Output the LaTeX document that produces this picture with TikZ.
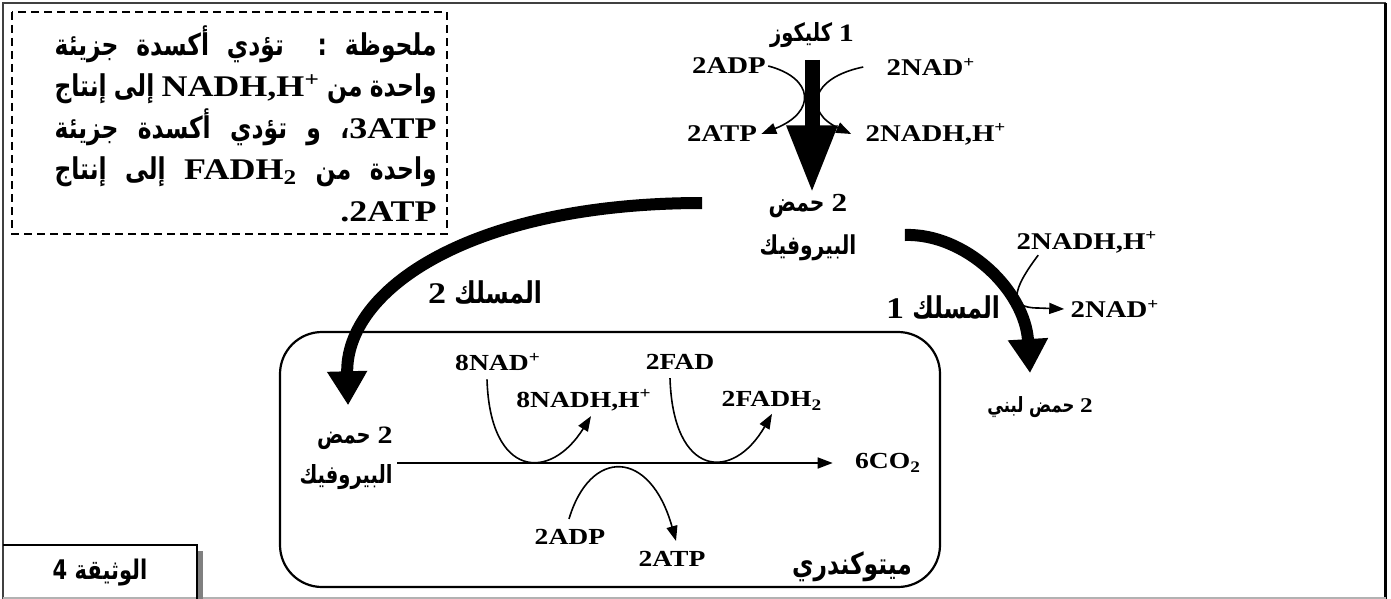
\documentclass[tikz,border=0pt]{standalone}
\usepackage{fontspec}
\setmainfont{Liberation Serif}[FakeStretch=1.2]
\newfontfamily\arabicfont[Script=Arabic,FakeStretch=0.78]{DejaVu Sans}
\usetikzlibrary{arrows.meta,calc,positioning}
\TeXXeTstate=1

\newcommand\ar[1]{{\arabicfont\beginR #1\endR}}
\newcommand\lat[1]{\beginL{\rmfamily #1}\endL}
\newlength\notew
\setlength\notew{191pt}
\newcommand\noteline[1]{\hbox to \notew{\arabicfont\spaceskip=.15em plus 1fil\beginR #1\endR}}

\begin{document}
\begin{tikzpicture}[x=0.5pt, y=-0.5pt, inner sep=0pt,
    lbl/.style={font=\fontsize{12}{14}\selectfont\bfseries},
    mlbl/.style={font=\fontsize{11.5}{20}\selectfont\bfseries},
    way/.style={font=\fontsize{15}{17}\selectfont\bfseries},
    react/.style={line width=0.8pt, -{Triangle[length=7.5pt,width=5.5pt]}},
    glucarrow/.style={line width=7.5pt, -{Triangle[length=34pt,width=23.5pt]}},
    wayarrow/.style={line width=6pt, -{Triangle[length=17pt,width=19pt]}}]

    \useasboundingbox (0,0) rectangle (1391,599);
    % frame
    \draw[black!75, line width=1pt] (3,599) -- (3,3) -- (1386,3);
    \draw[line width=1.5pt] (1385.5,3) -- (1385.5,599);
    \draw[black!30, line width=0.6pt] (3,598) -- (1386,598);

    % note
    \draw[line width=0.75pt, dash pattern=on 4pt off 2.5pt] (12,12) rectangle (447,234);
    \node[font=\fontsize{15}{20.75}\selectfont\bfseries, anchor=north east, align=right] (note) at (437,25) {
        \noteline{ملحوظة : تؤدي أكسدة جزيئة}\\
        \noteline{واحدة من \lat{NADH,H\textsuperscript{+}} إلى إنتاج}\\
        \noteline{\lat{3ATP}، و تؤدي أكسدة جزيئة}\\
        \noteline{واحدة من \lat{FADH\textsubscript{2}} إلى إنتاج}\\
        \hbox to \notew{\hfill\beginR\lat{2ATP}.\endR}};

    % document label
    \node[font=\fontsize{13.5}{15}\selectfont\bfseries] (doc) at (100,573) {\ar{الوثيقة 4}};
    \fill[black!50] (198,551) rectangle (203,599);
    \draw[line width=1pt] (3,545) -- (197,545) -- (197,599);

    % glycolysis
    \node[font=\fontsize{12.5}{14}\selectfont\bfseries] (glucose) at (812,35) {\ar{\lat{1} كليكوز}};
    \node[lbl] (adp) at (729,66) {2ADP};
    \node[lbl] (nad) at (931,67) {2NAD\textsuperscript{+}};
    \node[lbl] (atp) at (722,134) {2ATP};
    \node[lbl] (nadh) at (936,134) {2NADH,H\textsuperscript{+}};
    \node[font=\fontsize{13}{21.5}\selectfont\bfseries, align=center] (pyr) at (808,228) {\ar{\lat{2} حمض}\\ \ar{البيروفيك}};

    \draw[glucarrow] ([yshift=-6pt]glucose.south) -- ([yshift=0.5pt]glucose.south |- pyr.north);
    \draw[react] ([xshift=1pt]adp.east) .. controls (814,78) and (817,112) .. ([xshift=2pt]atp.east);
    \draw[react] ([xshift=-11.5pt]nad.west) .. controls (810,78) and (804,112) .. ([xshift=-7pt]nadh.west);

    % way 1
    \node[way] (way1) at (943,308) {\ar{المسلك \lat{1}}};
    \node[font=\fontsize{10.5}{13}\selectfont\bfseries] (lactate) at (1040,407) {\ar{\lat{2} حمض لبني}};
    \node[lbl] (nadh1) at (1087,242) {2NADH,H\textsuperscript{+}};
    \node[lbl] (nad1) at (1115,309) {2NAD\textsuperscript{+}};
    \draw[wayarrow] ($(pyr.east)+(48,7)$) .. controls (965,233) and (1025,290) .. ($(lactate.north)+(-10,-23)$);
    \draw[react] ($(nadh1.south west)+(22,2)$) .. controls (1012,290) and (1008,308) .. (1038,308) -- ($(nad1.west)+(-6,0)$);

    % way 2
    \node[way] (way2) at (485,293) {\ar{المسلك \lat{2}}};
    \draw[line width=1.1pt, rounded corners=21pt] (280,332) rectangle (940,587);
    \node[font=\fontsize{12.5}{20}\selectfont\bfseries, align=right, anchor=east] (mpyr) at (393,458) {\ar{\lat{2} حمض}\\ \ar{البيروفيك}};
    \node[mlbl] (co2) at (888,463) {6CO\textsubscript{2}};
    \node[mlbl] (nad8) at (498,362) {8NAD\textsuperscript{+}};
    \node[mlbl] (nadh8) at (584,400) {8NADH,H\textsuperscript{+}};
    \node[mlbl] (fad) at (680,362) {2FAD};
    \node[mlbl] (fadh) at (772,401) {2FADH\textsubscript{2}};
    \node[mlbl] (adp2) at (570,537) {2ADP};
    \node[mlbl] (atp2) at (672,559) {2ATP};
    \node[font=\fontsize{15}{17}\selectfont\bfseries] (mito) at (852,567) {\ar{ميتوكندري}};

    \draw[wayarrow] ($(pyr.west)+(-57,-25)$) .. controls (470,203) and (345,290) .. ($(mpyr.north)+(2,-21)$);
    \draw[react] ($(mpyr.east |- co2.west)+(4,0)$) -- ($(co2.west)+(-22,0)$);
    \draw[react] ($(nad8.south)+(-11,8)$) .. controls (490,478) and (550,482) .. ($(nadh8.south)+(7,5)$);
    \draw[react] ($(fad.south)+(-10,8)$) .. controls (673,478) and (733,482) .. ($(fadh.south)+(0,3)$);
    \draw[react] ($(adp2.north)+(-1,-10)$) .. controls (590,448) and (650,448) .. ($(atp2.north)+(4,-10)$);
\end{tikzpicture}
\end{document}
